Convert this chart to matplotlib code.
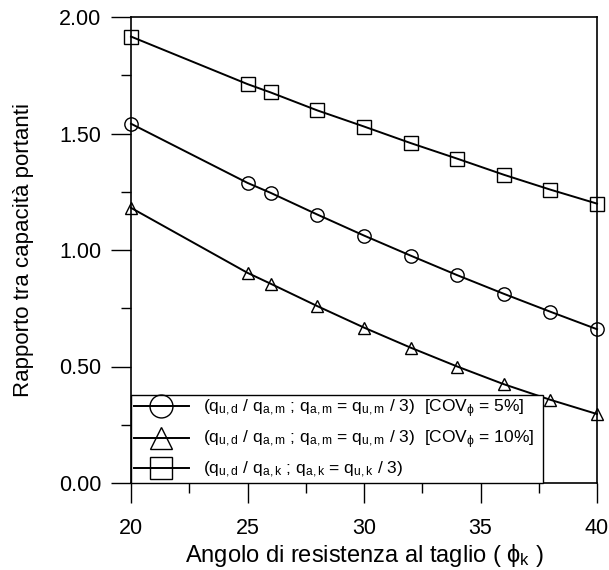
import numpy as np
import matplotlib
matplotlib.use('Agg')
import matplotlib.pyplot as plt
from matplotlib.ticker import MultipleLocator, FormatStrFormatter

plt.rcParams['font.family'] = ['Liberation Sans', 'DejaVu Sans']
plt.rcParams['mathtext.fontset'] = 'custom'
plt.rcParams['mathtext.rm'] = 'Liberation Sans'
plt.rcParams['mathtext.it'] = 'Liberation Sans'
plt.rcParams['mathtext.bf'] = 'Liberation Sans:bold'

# angolo di resistenza al taglio (gradi)
phi_k = [20, 25, 26, 28, 30, 32, 34, 36, 38, 40]

# rapporto q_u,d / q_a,m  COV = 5%
ratio_cov5 = [1.542, 1.288, 1.245, 1.152, 1.062, 0.976, 0.892, 0.812, 0.735, 0.660]
# rapporto q_u,d / q_a,m  COV = 10%
ratio_cov10 = [1.181, 0.902, 0.855, 0.759, 0.667, 0.581, 0.500, 0.424, 0.357, 0.296]
# rapporto q_u,d / q_a,k
ratio_k = [1.916, 1.712, 1.676, 1.599, 1.530, 1.459, 1.392, 1.323, 1.259, 1.199]

labels = [
    r'(q$_{\mathrm{u,d}}$ / q$_{\mathrm{a,m}}$ ; q$_{\mathrm{a,m}}$ = q$_{\mathrm{u,m}}$ / 3)  [COV$_{\phi}$ = 5%]',
    r'(q$_{\mathrm{u,d}}$ / q$_{\mathrm{a,m}}$ ; q$_{\mathrm{a,m}}$ = q$_{\mathrm{u,m}}$ / 3)  [COV$_{\phi}$ = 10%]',
    r'(q$_{\mathrm{u,d}}$ / q$_{\mathrm{a,k}}$ ; q$_{\mathrm{a,k}}$ = q$_{\mathrm{u,k}}$ / 3)',
]

fig = plt.figure(figsize=(6.09, 5.70), dpi=100)
ax = fig.add_axes([131 / 609, 1 - 483 / 570, (597 - 131) / 609, (483 - 17) / 570])

style = dict(color='black', linewidth=1.4, markerfacecolor='none',
             markeredgecolor='black', markeredgewidth=1.0, clip_on=False)
ax.plot(phi_k, ratio_cov5, marker='o', markersize=9.6, label=labels[0], **style)
ax.plot(phi_k, ratio_cov10, marker='^', markersize=8, label=labels[1], **style)
ax.plot(phi_k, ratio_k, marker='s', markersize=9.5, label=labels[2], **style)

ax.set_xlim(20, 40)
ax.set_ylim(0, 2)
ax.xaxis.set_major_locator(MultipleLocator(5))
ax.xaxis.set_minor_locator(MultipleLocator(2.5))
ax.yaxis.set_major_locator(MultipleLocator(0.5))
ax.yaxis.set_minor_locator(MultipleLocator(0.25))
ax.yaxis.set_major_formatter(FormatStrFormatter('%.2f'))
ax.tick_params(which='major', direction='out', length=14.4, width=1.0, labelsize=15.5)
ax.tick_params(axis='x', which='major', pad=11)
ax.tick_params(axis='y', which='major', pad=7)
ax.tick_params(which='minor', direction='out', length=7.2, width=1.0)
for s in ax.spines.values():
    s.set_linewidth(1.2)

ax.set_xlabel(r'Angolo di resistenza al taglio ( $\phi_{\mathrm{k}}$ )', fontsize=17, labelpad=2)
ax.set_ylabel('Rapporto tra capacità portanti', fontsize=16, labelpad=18)

leg = ax.legend(loc='lower left', bbox_to_anchor=(0, 0, (37.7 - 20) / 20, 0.375 / 2),
                mode='expand', borderaxespad=0, fancybox=False, framealpha=1,
                edgecolor='black', handlelength=3.2, handletextpad=0.8,
                borderpad=0.15, labelspacing=0.5, fontsize=12.5)
leg.get_frame().set_linewidth(1.0)
for h, ms in zip(leg.legend_handles, [16.5, 16, 16.5]):
    h.set_markersize(ms)

plt.savefig('out.png', dpi=100)
